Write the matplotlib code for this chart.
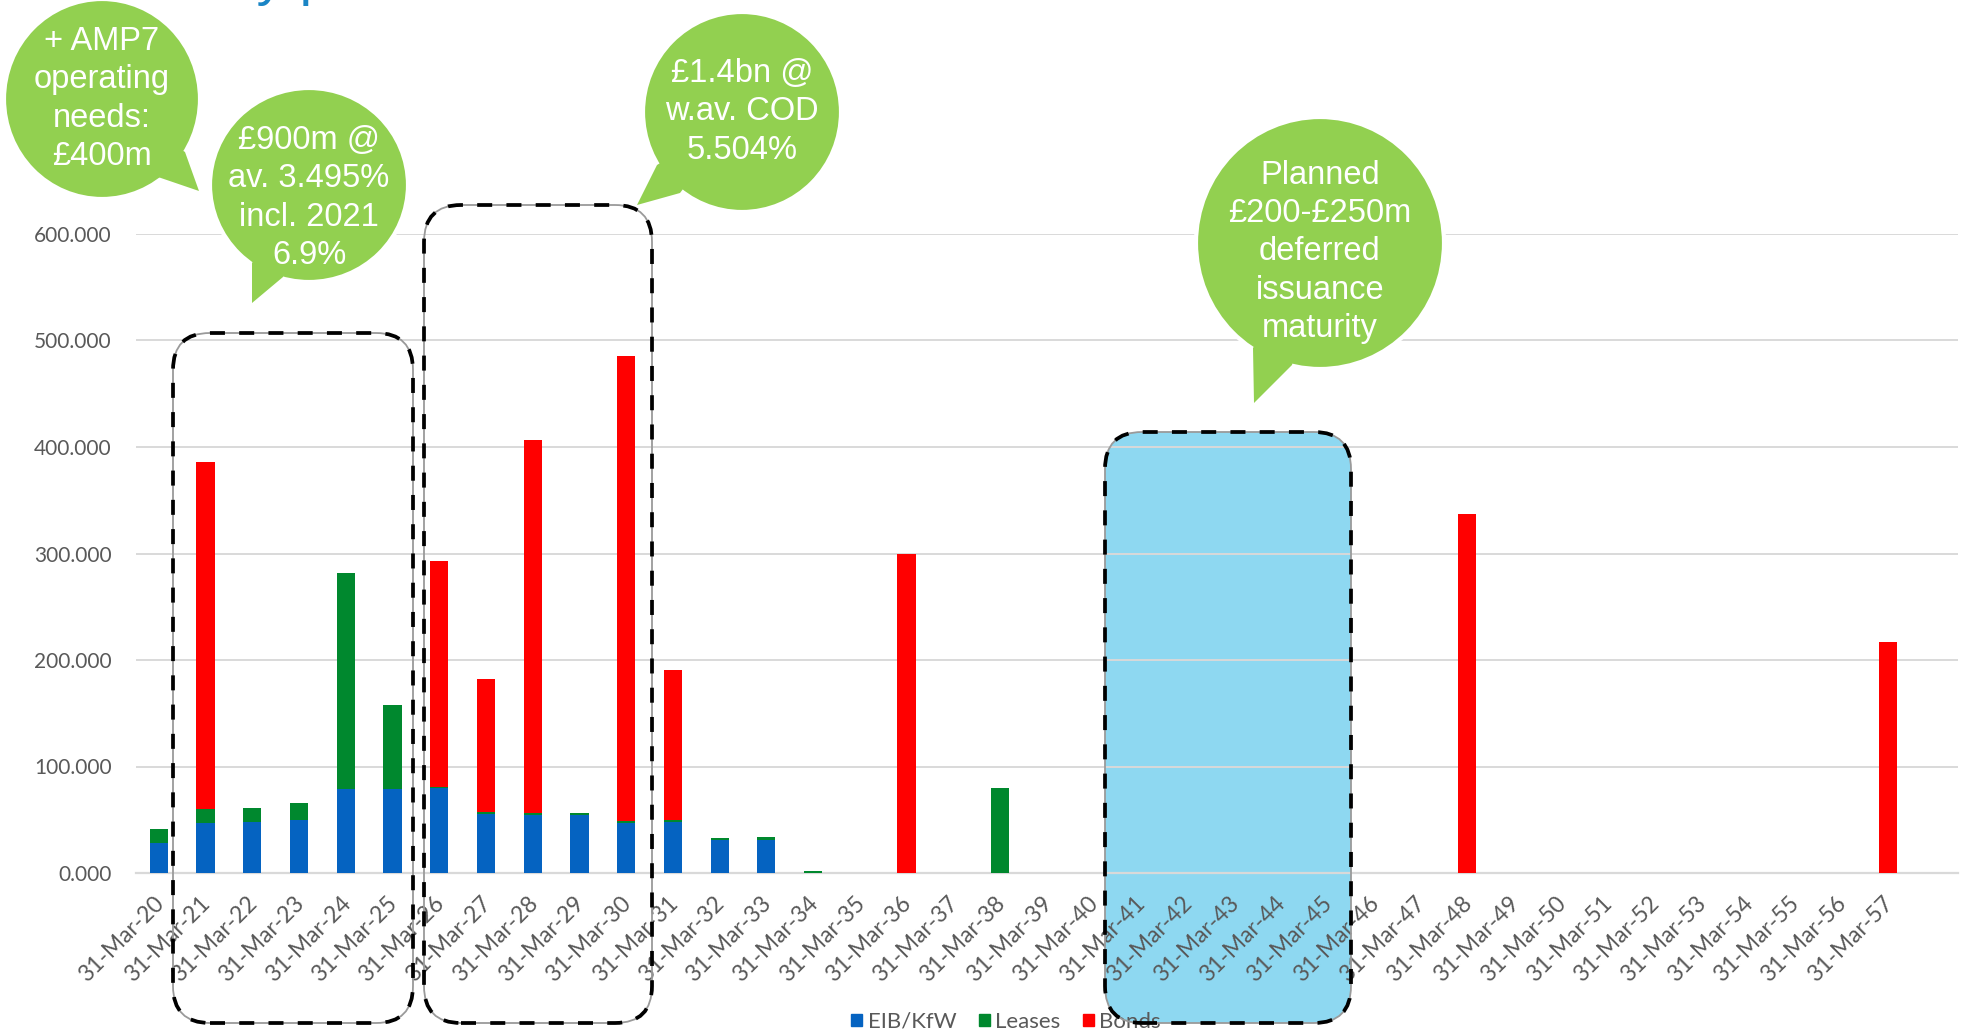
import matplotlib
matplotlib.use("Agg")
import matplotlib.pyplot as plt
import numpy as np
from matplotlib.patches import Ellipse, Polygon, FancyBboxPatch, Patch
from matplotlib.transforms import IdentityTransform, ScaledTranslation

# data (in £m)
years = list(range(20, 58))
labels = [f"31-Mar-{y}" for y in years]
eib = [28, 46.5, 47.5, 50, 79, 78.5, 79.5, 55.5, 54.5, 54, 47, 48, 31, 31] + [0] * 24
leases = [13.5, 13.5, 14, 16, 203, 79.5, 1.5, 1.5, 1.5, 2, 1.5, 1.5, 2, 2.5, 1.5, 0.3, 0, 0, 80] + [0] * 19
bonds = [0] * 38
bonds[1] = 326
bonds[6] = 211.5
bonds[7] = 125.5
bonds[8] = 350.5
bonds[10] = 436.5
bonds[11] = 141
bonds[16] = 300
bonds[28] = 337.5
bonds[37] = 216.5

series_names = ["EIB/KfW", "Leases", "Bonds"]
colors = ["#0563C1", "#00882E", "#FF0000"]

W, H = 1962, 1035
fig = plt.figure(figsize=(W / 100, H / 100), dpi=100)

# plot area in pixels: x 135.5..1958, y(top) 234..873
ax = fig.add_axes([135.5 / W, 1 - 873 / H, (1958 - 135.5) / W, (873 - 234) / H])
ax.patch.set_alpha(0)

x = np.arange(len(labels))
bw = 0.39
ax.bar(x, eib, bw, color=colors[0], zorder=3)
ax.bar(x, leases, bw, bottom=eib, color=colors[1], zorder=3)
ax.bar(x, bonds, bw, bottom=np.array(eib) + np.array(leases), color=colors[2], zorder=3)

ax.set_xlim(-0.5, 38.5)
ax.set_ylim(0, 600)
ax.set_yticks(range(0, 601, 100))
ax.set_yticklabels([f"{v:.3f}" for v in range(0, 601, 100)])
ax.yaxis.grid(True, color="#D9D9D9", lw=1.4)
ax.set_axisbelow(True)
for s in ["top", "right", "left"]:
    ax.spines[s].set_visible(False)
ax.spines["bottom"].set_color("#D9D9D9")
ax.spines["bottom"].set_linewidth(1.6)

ax.set_xticks(x)
ax.set_xticklabels(labels, rotation=45, ha="right", va="top")
ax.tick_params(axis="y", length=0, pad=17, labelsize=15, labelcolor="#595959")
ax.tick_params(axis="x", length=0, pad=14, labelsize=16.5, labelcolor="#595959")
shift = ScaledTranslation(9 / 100, 0, fig.dpi_scale_trans)
for t in ax.get_xticklabels():
    t.set_fontfamily("Lato")
    t.set_transform(t.get_transform() + shift)
for t in ax.get_yticklabels():
    t.set_fontfamily("Lato")

px = IdentityTransform()


def rbox(x0, y0, x1, y1, fill=None):
    # rounded dashed box, coords in pixels from top-left
    if fill:
        fig.patches.append(FancyBboxPatch((x0, H - y1), x1 - x0, y1 - y0,
                                          boxstyle="round,pad=0,rounding_size=37",
                                          fc=fill, ec="none", transform=px, zorder=-1))
    fig.patches.append(FancyBboxPatch((x0, H - y1), x1 - x0, y1 - y0,
                                      boxstyle="round,pad=0,rounding_size=37",
                                      fc="none", ec="#9A9A9A", lw=1.3, transform=px, zorder=6))
    fig.patches.append(FancyBboxPatch((x0, H - y1), x1 - x0, y1 - y0,
                                      boxstyle="round,pad=0,rounding_size=37",
                                      fc="none", ec="black", lw=2.7, ls=(0, (4.0, 3.8)),
                                      transform=px, zorder=6))


rbox(173, 333, 413, 1023)
rbox(424, 205, 652, 1023)
rbox(1105, 432, 1351, 1023, fill="#8ED8F1")

green = "#92D050"


def bubble(cx, cy, w, h, b1, tip, b2, ty, text):
    fig.patches.append(Ellipse((cx, H - cy), w, h, fc=green, ec="white", lw=3,
                               transform=px, zorder=7))
    pts = [(b1[0], H - b1[1]), (tip[0], H - tip[1]), (b2[0], H - b2[1]), (cx, H - cy)]
    fig.patches.append(Polygon(pts, closed=True, fc=green, ec="none", transform=px, zorder=7))
    fig.text(cx / W, 1 - ty / H, text, ha="center", va="center", color="white",
             fontsize=23.5, family="Liberation Sans", linespacing=1.3,
             multialignment="center", zorder=8)


bubble(102, 99, 196, 200, (158, 177), (199, 191), (185, 152), 99,
       "+ AMP7\noperating\nneeds:\n£400m")
bubble(309, 185, 198, 194, (252, 263), (252, 303), (283, 277), 198,
       "£900m @\nav. 3.495%\nincl. 2021\n6.9%")
bubble(742, 112, 198, 200, (657, 165), (637, 205), (680, 193), 112,
       "£1.4bn @\nw.av. COD\n5.504%")
bubble(1320, 243, 248, 252, (1253, 348), (1254, 403), (1292, 365), 252,
       "Planned\n£200-£250m\ndeferred\nissuance\nmaturity")

# slide title, mostly cut off by the top edge; place it so the "y p" descenders
# land where the reference shows them
renderer = fig.canvas.get_renderer()
probe = fig.text(0, 0.5, "Debt maturit", fontsize=40, family="Liberation Sans")
pre_w = probe.get_window_extent(renderer).width
probe.remove()
fig.text((256 - pre_w) / W, 1 + 6 / H, "Debt maturity profile", ha="left", va="baseline",
         fontsize=40, family="Liberation Sans", color="#1A85C5")

handles = [Patch(color=c) for c in colors]
leg = fig.legend(handles, series_names, loc="center", bbox_to_anchor=(1006 / W, 1 - 1022 / H),
                 ncol=3, frameon=False, handlelength=0.5, handleheight=0.5,
                 handletextpad=0.25, columnspacing=1.0, labelcolor="#595959",
                 borderpad=0, prop={"family": "Lato", "size": 16})
leg.set_zorder(5)

fig.savefig("out.png", dpi=100)
